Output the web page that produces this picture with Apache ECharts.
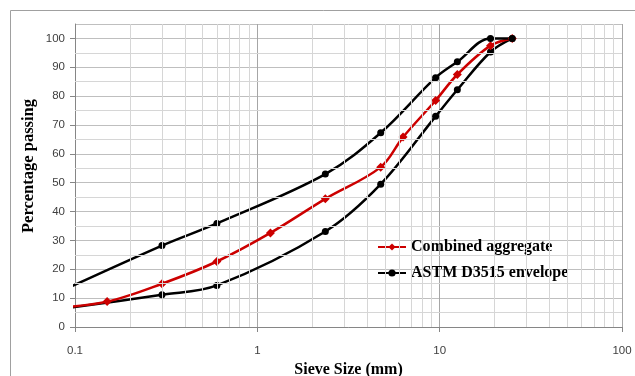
<!DOCTYPE html>
<html>
<head>
<meta charset="utf-8">
<script src="https://cdn.jsdelivr.net/npm/echarts@6/dist/echarts.min.js"></script>
<style>
  html, body { margin: 0; padding: 0; background: #fff; }
  #chart { width: 635px; height: 376px; }
</style>
</head>
<body>
<div id="chart"></div>
<script>
// sieve sizes (mm) and percentage passing
const sieveCombined = [0.075, 0.15, 0.3, 0.6, 1.18, 2.36, 4.75, 6.3, 9.5, 12.5, 19, 25];
const combined = [6.6, 8.8, 15.0, 22.7, 32.6, 44.4, 55.4, 65.8, 78.5, 87.5, 97.5, 100];

const sieveEnvelope = [0.075, 0.3, 0.6, 2.36, 4.75, 9.5, 12.5, 19, 25];
const envelopeUpper = [11, 28.2, 35.9, 53.0, 67.3, 86.4, 91.9, 100, 100];
const envelopeLower = [5.8, 11.2, 14.4, 33.1, 49.5, 73.0, 82.2, 95.3, 100];

const xTicks = [0.1, 1, 10, 100];

// minor grid positions: 2..9 in each decade, and the 5s on the y axis
const minorX = [];
[0.1, 1, 10].forEach((d) => {
  for (let k = 2; k <= 9; k++) minorX.push(+(d * k).toFixed(3));
});
const minorY = [];
for (let v = 5; v < 100; v += 10) minorY.push(v);

const serif = '"Liberation Serif", "DejaVu Serif", serif';
const sans = '"Liberation Sans", Arial, sans-serif';

const pairs = (xs, ys) => xs.map((x, i) => [x, ys[i]]);

const envelopeStyle = {
  type: 'line',
  name: 'ASTM D3515 envelope',
  smooth: 0.35,
  symbol: 'circle',
  symbolSize: 7,
  clip: true,
  lineStyle: { color: '#000', width: 2.5 },
  itemStyle: { color: '#000' },
};

const chart = echarts.init(document.getElementById('chart'), null, { renderer: 'canvas' });

chart.setOption({
  animation: false,
  backgroundColor: '#fff',
  grid: { left: 75, right: 13, top: 24, bottom: 49, outerBoundsMode: 'none', containLabel: false },
  legend: {
    data: ['Combined aggregate', 'ASTM D3515 envelope'],
    orient: 'vertical',
    left: 377,
    top: 239,
    padding: 0,
    itemWidth: 28,
    itemHeight: 9,
    itemGap: 10,
    textStyle: { color: '#000', fontFamily: serif, fontWeight: 'bold', fontSize: 16 },
  },
  xAxis: {
    type: 'log',
    logBase: 10,
    min: 0.1,
    max: 100,
    name: 'Sieve Size (mm)',
    nameLocation: 'middle',
    nameGap: 33,
    nameTextStyle: { color: '#000', fontFamily: serif, fontWeight: 'bold', fontSize: 16 },
    axisLine: { lineStyle: { color: '#868686', width: 1 } },
    axisTick: { show: true, length: 5, lineStyle: { color: '#868686' } },
    axisLabel: {
      color: '#404040',
      fontFamily: sans,
      fontSize: 11.5,
      margin: 18,
      formatter: (v) => (xTicks.some((t) => Math.abs(t - v) / t < 1e-6) ? String(v) : ''),
    },
    splitLine: { show: true, lineStyle: { color: '#a6a6a6', width: 1 } },
  },
  yAxis: {
    type: 'value',
    min: 0,
    max: 105,
    interval: 10,
    axisLine: { show: true, lineStyle: { color: '#868686', width: 1 } },
    axisTick: { show: true, length: 5, lineStyle: { color: '#868686' } },
    axisLabel: {
      color: '#404040',
      fontFamily: sans,
      fontSize: 11.5,
      margin: 10,
      showMaxLabel: false,
    },
    splitLine: { show: true, lineStyle: { color: '#bfbfbf', width: 1 } },
  },
  graphic: [
    {
      type: 'rect',
      shape: { x: 10.5, y: 10.5, width: 640, height: 400 },
      style: { fill: 'none', stroke: '#a0a0a0', lineWidth: 1 },
      silent: true,
    },
    {
      type: 'text',
      x: 29,
      y: 166,
      rotation: Math.PI / 2,
      style: {
        text: 'Percentage passing',
        fill: '#000',
        font: 'bold 16.5px ' + serif,
        align: 'center',
        verticalAlign: 'middle',
      },
      silent: true,
    },
  ],
  series: [
    {
      name: 'grid',
      type: 'line',
      data: [],
      silent: true,
      markLine: {
        silent: true,
        symbol: 'none',
        label: { show: false },
        animation: false,
        lineStyle: { color: '#d6d6d6', width: 1, type: 'solid' },
        data: [
          ...minorX.map((v) => ({ xAxis: v })),
          ...minorY.map((v) => ({ yAxis: v })),
        ],
      },
    },
    { ...envelopeStyle, data: pairs(sieveEnvelope, envelopeLower) },
    {
      name: 'Combined aggregate',
      type: 'line',
      data: pairs(sieveCombined, combined),
      smooth: 0.35,
      symbol: 'diamond',
      symbolSize: 9,
      clip: true,
      lineStyle: { color: '#cc0000', width: 2.5 },
      itemStyle: { color: '#cc0000' },
    },
    { ...envelopeStyle, data: pairs(sieveEnvelope, envelopeUpper) },
  ],
});
</script>
</body>
</html>
